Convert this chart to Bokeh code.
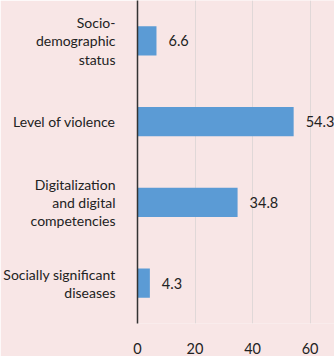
from bokeh.plotting import figure
from bokeh.models import ColumnDataSource, Range1d, FixedTicker, LabelSet
from bokeh.core.properties import value
from bokeh.embed import file_html
from bokeh.resources import INLINE

categories = ["Socio-\ndemographic\nstatus", "Level of violence",
              "Digitalization\nand digital\ncompetencies", "Socially significant\ndiseases"]
values = [6.6, 54.3, 34.8, 4.3]
value_labels = ["6.6", "54.3", "34.8", "4.3"]
x_ticks = [0, 20, 40, 60]

BG = "#F8E6E6"
FONT = "Lato"
FS = "14.5px"
CAT_FS = "14px"
LINE_STEP = 0.225  # line spacing of category labels, in y units

n = len(categories)
ypos = [n - i for i in range(n)]  # first category on top

src = ColumnDataSource(dict(y=ypos, val=values, lab=value_labels))

# each line of each category label becomes its own y-axis tick
tick_vals, overrides = [], {}
for yi, cat in zip(ypos, categories):
    lines = cat.split("\n")
    k = len(lines)
    for j, ln in enumerate(lines):
        t = round(yi + ((k - 1) / 2 - j) * LINE_STEP, 4)
        tick_vals.append(t)
        overrides[t] = ln

p = figure(width=334, height=356, output_backend="svg", toolbar_location=None,
           x_range=Range1d(0, 68.5), y_range=Range1d(0.5, 4.5))
p.background_fill_color = BG
p.border_fill_color = BG
p.outline_line_color = None
p.min_border_top = 0
p.min_border_right = 0
p.min_border_left = 137
p.min_border_bottom = 28

p.hbar(y="y", right="val", left=0, height=0.36, source=src,
       fill_color="#5B9BD5", line_color=None)

p.add_layout(LabelSet(x="val", y="y", text="lab", source=src, x_offset=12,
                      text_baseline="middle", text_font=value(FONT), text_font_size=FS,
                      text_color="#222222"))

p.ygrid.grid_line_color = None
p.xgrid.grid_line_color = "#E0D8D8"
p.xgrid.grid_line_width = 1
p.xaxis.ticker = FixedTicker(ticks=x_ticks)
p.xaxis.axis_line_color = None
p.xaxis.major_tick_line_color = None
p.xaxis.minor_tick_line_color = None
p.xaxis.major_label_text_font = FONT
p.xaxis.major_label_text_font_size = FS
p.xaxis.major_label_text_color = "#222222"
p.xaxis.major_label_standoff = 13

p.yaxis.ticker = FixedTicker(ticks=tick_vals)
p.yaxis.major_label_overrides = overrides
p.yaxis.axis_line_color = "#333333"
p.yaxis.axis_line_width = 1.5
p.yaxis.major_tick_line_color = None
p.yaxis.minor_tick_line_color = None
p.yaxis.major_label_standoff = 16
p.yaxis.major_label_text_font = FONT
p.yaxis.major_label_text_font_size = CAT_FS
p.yaxis.major_label_text_color = "#222222"

open("out.html", "w").write(file_html(p, INLINE))
